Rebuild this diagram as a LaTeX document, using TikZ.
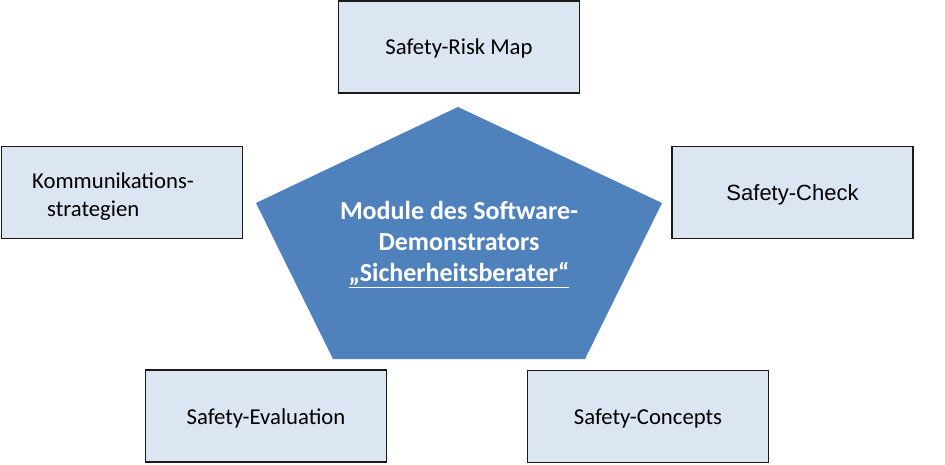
\documentclass[tikz,border=0pt]{standalone}
\usepackage{fontspec}
\setmainfont{Carlito}
\newfontfamily\arialfont{Liberation Sans}
\definecolor{boxfill}{HTML}{DCE6F2}
\definecolor{pentfill}{HTML}{4F81BD}
\definecolor{boxline}{HTML}{1A1A1A}
\begin{document}
\begin{tikzpicture}[x=1pt,y=-1pt,
  modbox/.style={draw=boxline, fill=boxfill, line width=1.3pt, minimum width=241pt, minimum height=92pt, inner sep=0pt, text height=16pt, text depth=0pt, font=\fontsize{22.7}{27}\selectfont, align=center}]
\useasboundingbox (0,0) rectangle (945,465);
\fill[white] (0,0) rectangle (945,465);
% pentagon
\coordinate (pt) at (458,107);
\coordinate (pr) at (662,203);
\coordinate (pbr) at (585,359);
\coordinate (pbl) at (333,359);
\coordinate (pl) at (256,203);
\fill[pentfill] (pt) -- (pr) -- (pbr) -- (pbl) -- (pl) -- cycle;
\node[text=white, align=center, font=\bfseries\fontsize{26}{31}\selectfont, inner sep=0pt] (core) at (459,244.5)
  {Module des Software-\\Demonstrators\\\underline{„Sicherheitsberater“}};
% boxes
\node[modbox] (risk) at (459,47) {Safety-Risk Map};
\node[modbox] (komm) at (122,192.5) {};
\node[font=\fontsize{22.7}{28}\selectfont, align=left, inner sep=0pt, anchor=west] (kommtext) at (32,197) {Kommunikations-\\\hspace{15pt}strategien};
\node[modbox, font=\arialfont\fontsize{22}{26}\selectfont] (check) at (792.5,192.5) {Safety-Check};
\node[modbox] (eval) at (266,416) {Safety-Evaluation};
\node[modbox] (conc) at (648,416.5) {Safety-Concepts};
\end{tikzpicture}
\end{document}
